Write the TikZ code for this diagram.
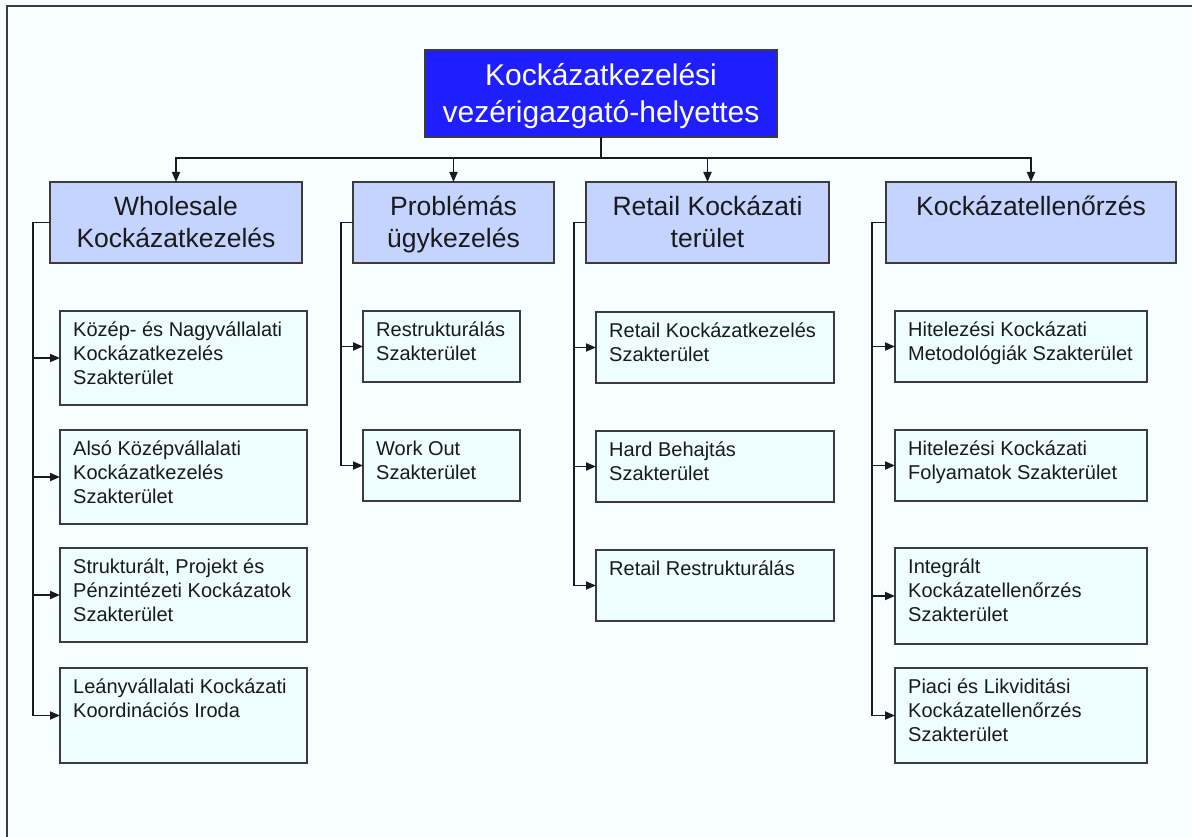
\documentclass[tikz,border=0pt]{standalone}
\usepackage{fontspec}
\setmainfont{Liberation Sans}
\usepackage{tikz}
\usetikzlibrary{arrows.meta}
\definecolor{pagebg}{HTML}{F6FEFF}
\definecolor{ceofill}{HTML}{1E1EFF}
\definecolor{deptfill}{HTML}{C4D4FE}
\definecolor{unitfill}{HTML}{EEFEFF}
\definecolor{edgecol}{HTML}{3C3C3C}
\definecolor{inkcol}{HTML}{1A1A1A}

\begin{document}
\begin{tikzpicture}[x=1pt,y=-1pt,
    box/.style={draw=edgecol,line width=1.4pt,inner sep=0pt,outer sep=0pt,anchor=north west},
    ceo/.style={box,fill=ceofill},
    dept/.style={box,fill=deptfill,minimum height=81pt},
    unit/.style={box,fill=unitfill},
    ceotext/.style={anchor=north,align=center,inner sep=0pt,text=white,font=\fontsize{30}{37}\selectfont},
    depttext/.style={anchor=north,align=center,inner sep=0pt,text=inkcol,font=\fontsize{26.5}{32}\selectfont},
    unittext/.style={anchor=north west,align=left,inner sep=0pt,text=inkcol,font=\fontsize{20}{24}\selectfont},
    link/.style={draw=inkcol,line width=1.8pt,-{Triangle[length=10pt,width=8pt]}}]
    \fill[pagebg] (0,0) rectangle (1192,837);
    \useasboundingbox (0,0) rectangle (1192,837);
    \draw[edgecol,line width=2pt] (1192,6) -- (7,6) -- (7,837);

    % top
    \node[ceo,minimum width=352pt,minimum height=87pt] (ceo) at (425,50) {};
    \node[ceotext] (ceot) at ([shift={(0,13)}]ceo.north) {Kockázatkezelési\\vezérigazgató-helyettes};

    % departments
    \node[dept,minimum width=252pt] (whole) at (50,182) {};
    \node[dept,minimum width=201pt] (probl) at (353,182) {};
    \node[dept,minimum width=243pt] (retail) at (586,182) {};
    \node[dept,minimum width=290pt] (kock) at (886,182) {};
    \node[depttext] (wholet) at ([shift={(0,14)}]whole.north) {Wholesale\\Kockázatkezelés};
    \node[depttext] (problt) at ([shift={(0,14)}]probl.north) {Problémás\\ügykezelés};
    \node[depttext] (retailt) at ([shift={(0,14)}]retail.north) {Retail Kockázati\\terület};
    \node[depttext] (kockt) at ([shift={(0,14)}]kock.north) {Kockázatellenőrzés};

    % units
    \node[unit,minimum width=247pt,minimum height=94pt] (w1) at (60,311) {};
    \node[unit,minimum width=247pt,minimum height=94pt] (w2) at (60,430) {};
    \node[unit,minimum width=247pt,minimum height=94pt] (w3) at (60,548) {};
    \node[unit,minimum width=247pt,minimum height=95pt] (w4) at (60,668) {};
    \node[unit,minimum width=157pt,minimum height=71pt] (p1) at (363,311) {};
    \node[unit,minimum width=157pt,minimum height=71pt] (p2) at (363,430) {};
    \node[unit,minimum width=238pt,minimum height=71pt] (r1) at (596,312) {};
    \node[unit,minimum width=238pt,minimum height=71pt] (r2) at (596,431) {};
    \node[unit,minimum width=238pt,minimum height=71pt] (r3) at (596,550) {};
    \node[unit,minimum width=252pt,minimum height=71pt] (k1) at (895,311) {};
    \node[unit,minimum width=252pt,minimum height=71pt] (k2) at (895,430) {};
    \node[unit,minimum width=252pt,minimum height=96pt] (k3) at (895,548) {};
    \node[unit,minimum width=252pt,minimum height=95pt] (k4) at (895,668) {};

    \node[unittext] (w1t) at ([shift={(13,11)}]w1.north west) {Közép- és Nagyvállalati\\Kockázatkezelés\\Szakterület};
    \node[unittext] (w2t) at ([shift={(13,11)}]w2.north west) {Alsó Középvállalati\\Kockázatkezelés\\Szakterület};
    \node[unittext] (w3t) at ([shift={(13,11)}]w3.north west) {Strukturált, Projekt és\\Pénzintézeti Kockázatok\\Szakterület};
    \node[unittext] (w4t) at ([shift={(13,11)}]w4.north west) {Leányvállalati Kockázati\\Koordinációs Iroda};
    \node[unittext] (p1t) at ([shift={(13,11)}]p1.north west) {Restrukturálás\\Szakterület};
    \node[unittext] (p2t) at ([shift={(13,11)}]p2.north west) {Work Out\\Szakterület};
    \node[unittext] (r1t) at ([shift={(13,11)}]r1.north west) {Retail Kockázatkezelés\\Szakterület};
    \node[unittext] (r2t) at ([shift={(13,11)}]r2.north west) {Hard Behajtás\\Szakterület};
    \node[unittext] (r3t) at ([shift={(13,11)}]r3.north west) {Retail Restrukturálás};
    \node[unittext] (k1t) at ([shift={(13,11)}]k1.north west) {Hitelezési Kockázati\\Metodológiák Szakterület};
    \node[unittext] (k2t) at ([shift={(13,11)}]k2.north west) {Hitelezési Kockázati\\Folyamatok Szakterület};
    \node[unittext] (k3t) at ([shift={(13,11)}]k3.north west) {Integrált\\Kockázatellenőrzés\\Szakterület};
    \node[unittext] (k4t) at ([shift={(13,11)}]k4.north west) {Piaci és Likviditási\\Kockázatellenőrzés\\Szakterület};

    % links
    \draw[link] (ceo.south) -- ++(0,21) -| (whole.north);
    \draw[link] (ceo.south) -- ++(0,21) -| (probl.north);
    \draw[link] (ceo.south) -- ++(0,21) -| (retail.north);
    \draw[link] (ceo.south) -- ++(0,21) -| (kock.north);
    \draw[link] (whole.west) -- ++(-17,0) |- (w1.west);
    \draw[link] (whole.west) -- ++(-17,0) |- (w2.west);
    \draw[link] (whole.west) -- ++(-17,0) |- (w3.west);
    \draw[link] (whole.west) -- ++(-17,0) |- (w4.west);
    \draw[link] (probl.west) -- ++(-12,0) |- (p1.west);
    \draw[link] (probl.west) -- ++(-12,0) |- (p2.west);
    \draw[link] (retail.west) -- ++(-12,0) |- (r1.west);
    \draw[link] (retail.west) -- ++(-12,0) |- (r2.west);
    \draw[link] (retail.west) -- ++(-12,0) |- (r3.west);
    \draw[link] (kock.west) -- ++(-14,0) |- (k1.west);
    \draw[link] (kock.west) -- ++(-14,0) |- (k2.west);
    \draw[link] (kock.west) -- ++(-14,0) |- (k3.west);
    \draw[link] (kock.west) -- ++(-14,0) |- (k4.west);
\end{tikzpicture}
\end{document}
